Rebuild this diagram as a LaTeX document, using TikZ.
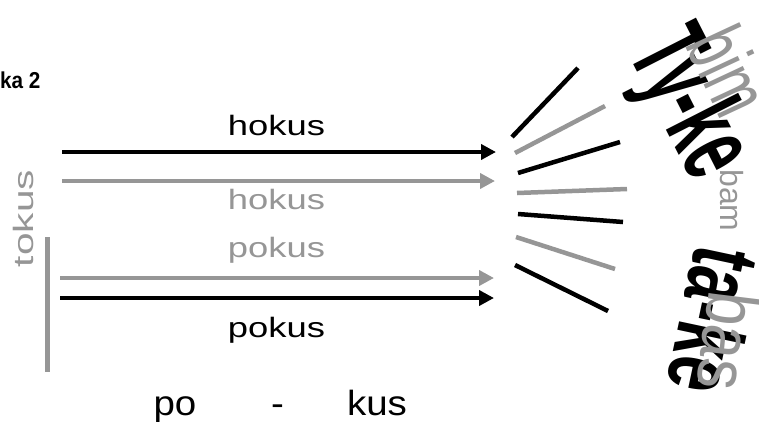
\documentclass[tikz,border=0pt]{standalone}
\usepackage{fontspec}
\setmainfont{Liberation Sans}
\usetikzlibrary{arrows.meta}
\definecolor{lgray}{RGB}{150,150,150}
\begin{document}
\begin{tikzpicture}[x=1pt,y=-1pt,
  txt/.style={inner sep=0pt, anchor=base},
  arr/.style={line width=4pt, -{Triangle[length=15pt,width=15pt]}},
  fan/.style={line width=4.5pt},
  big/.style={font=\fontsize{28}{30}\selectfont},
]
\useasboundingbox (0,0) rectangle (759,421);

% title fragment
\node[txt, anchor=base west, font=\bfseries\fontsize{23}{25}\selectfont] (title) at (0,88.3) {\scalebox{0.9}[1]{ka 2}};

% arrows
\coordinate (a1s) at (62,152);  \coordinate (a1e) at (496,152);
\coordinate (a2s) at (62,181);  \coordinate (a2e) at (495,181);
\coordinate (a3s) at (60,278);  \coordinate (a3e) at (494,278);
\coordinate (a4s) at (60,298);  \coordinate (a4e) at (494,298);
\draw[arr] (a1s) -- (a1e);
\draw[arr, lgray] (a2s) -- (a2e);
\draw[arr, lgray] (a3s) -- (a3e);
\draw[arr] (a4s) -- (a4e);

% vertical bar
\coordinate (vt) at (47,237); \coordinate (vb) at (47,372);
\draw[lgray, line width=5pt] (vt) -- (vb);

% labels
\node[txt, big] (h1) at (276.5,135) {\scalebox{1.3}[1]{hokus}};
\node[txt, big, lgray] (h2) at (276.5,209) {\scalebox{1.3}[1]{hokus}};
\node[txt, big, lgray] (p1) at (276.5,257) {\scalebox{1.3}[1]{pokus}};
\node[txt, big] (p2) at (276.5,337) {\scalebox{1.3}[1]{pokus}};
\node[txt, big, lgray, rotate=90] (tok) at (33,218.5) {\scalebox{1.45}[1]{tokus}};

\node[txt, font=\fontsize{35}{37}\selectfont] (po) at (175,415) {\scalebox{1.1}[1]{po}};
\node[txt, font=\fontsize{35}{37}\selectfont] (dash) at (277.5,415) {\scalebox{1.1}[1]{-}};
\node[txt, font=\fontsize{35}{37}\selectfont] (kus) at (377,415) {\scalebox{1.1}[1]{kus}};

% fan of strokes
\draw[fan] (512,137) -- (578,68);
\draw[fan, lgray] (515,153) -- (605,106);
\draw[fan] (518,173) -- (620,142);
\draw[fan, lgray] (517,193) -- (627,189);
\draw[fan] (518,214) -- (623,222);
\draw[fan, lgray] (516,237) -- (615,269);
\draw[fan] (515,265) -- (608,311);

% rotated syllables
\node[txt, rotate=-63, font=\bfseries\fontsize{112}{112}\selectfont] (tyke) at (660.6,118) {\scalebox{0.52}[1]{Ty-ke}};
\node[txt, rotate=-102, font=\bfseries\fontsize{95}{95}\selectfont] (take) at (681,314) {\scalebox{0.66}[1]{ta-ke}};
\node[txt, rotate=-65, lgray, font=\fontsize{82}{82}\selectfont] (bim) at (702.7,83.1) {\scalebox{0.65}[1]{bim}};
\node[txt, rotate=-90, lgray, font=\fontsize{32}{32}\selectfont] (bam) at (720,200.5) {bam};
\node[txt, rotate=-97, lgray, font=\fontsize{72}{72}\selectfont] (bas) at (703,338) {\scalebox{0.85}[1]{bas}};
\end{tikzpicture}
\end{document}
